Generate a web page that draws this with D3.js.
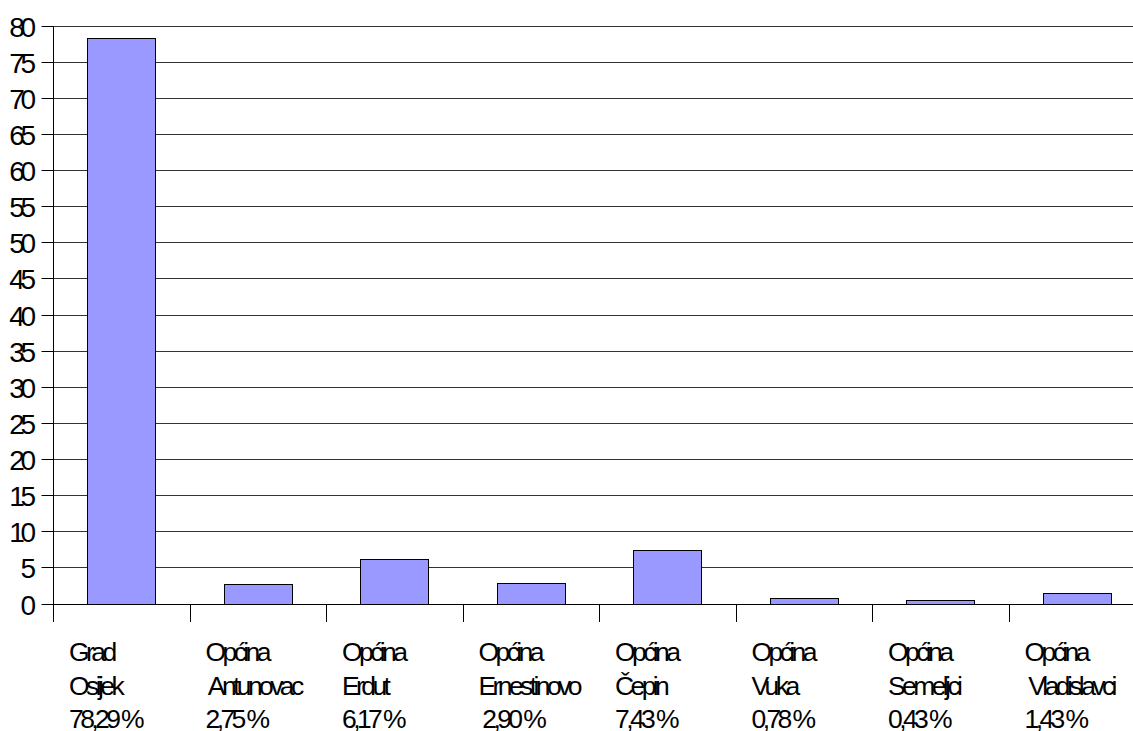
<!DOCTYPE html>
<html>
<head>
<meta charset="utf-8">
<script src="https://cdn.jsdelivr.net/npm/d3@7"></script>
<style>
html,body{margin:0;padding:0;background:#fff;overflow:hidden;}
svg{display:block;}
text{font-family:"Liberation Sans",Arial,sans-serif;fill:#000;white-space:pre;}
</style>
</head>
<body>
<svg id="chart" width="1133" height="731"></svg>
<script>
const categories = ["Grad Osijek","Općina Antunovac","Općina Erdut","Općina Ernestinovo","Općina Čepin","Općina Vuka","Općina Semeljci","Općina Vladislavci"];
const labelLines = [
  ["Grad","Osijek","78,29 %"],
  ["Općina"," Antunovac","2,75 %"],
  ["Općina","Erdut","6,17 %"],
  ["Općina","Ernestinovo"," 2,90 %"],
  ["Općina","Čepin","7,43 %"],
  ["Općina","Vuka","0,78 %"],
  ["Općina","Semeljci","0,43 %"],
  ["Općina"," Vladislavci","1,43 %"]
];
const values = [78.29, 2.75, 6.17, 2.90, 7.43, 0.78, 0.43, 1.43];
const yTicks = [0,5,10,15,20,25,30,35,40,45,50,55,60,65,70,75,80];

const svg = d3.select("#chart");
const mLeft = 53, mRight = 1145, mTop = 25.5, mBottom = 603.5;

const x = d3.scaleBand().domain(categories).range([mLeft, mRight]).paddingInner(0.5).paddingOuter(0.25);
const y = d3.scaleLinear().domain([0, 80]).range([mBottom, mTop]);
const bandStart = d => x(d) - x.step() * 0.25;

// gridlines
svg.append("g").selectAll("line").data(yTicks.filter(d => d > 0)).join("line")
  .attr("x1", mLeft).attr("x2", mRight)
  .attr("y1", d => Math.round(y(d)) + 0.5).attr("y2", d => Math.round(y(d)) + 0.5)
  .attr("stroke", "#333").attr("stroke-width", 1);

// bars
svg.append("g").selectAll("rect").data(values).join("rect")
  .attr("x", (d, i) => Math.round(x(categories[i])) + 0.5)
  .attr("y", d => Math.round(y(d)) + 0.5)
  .attr("width", Math.round(x.bandwidth()))
  .attr("height", d => Math.round(y(0)) - Math.round(y(d)))
  .attr("fill", "#9999ff").attr("stroke", "#000").attr("stroke-width", 1);

// y axis
const yAxis = d3.axisLeft(y).tickValues(yTicks).tickSize(12).tickPadding(6).tickFormat(d3.format("d"));
const gy = svg.append("g").attr("transform", `translate(${mLeft + 0.5},0)`).call(yAxis);
gy.select(".domain").attr("d", `M0,${Math.round(mTop)} V${Math.round(mBottom) + 18}`).attr("stroke", "#000");
gy.selectAll(".tick").attr("transform", d => `translate(0,${Math.round(y(d)) + 0.5})`);
gy.selectAll(".tick line").attr("stroke", "#000");
gy.selectAll(".tick text").attr("font-size", 28).attr("letter-spacing", "-4.5px")
  .attr("font-family", "Liberation Sans, Arial, sans-serif").attr("dy", "0.36em").attr("x", -22);

// x axis baseline and category separators
const ax = svg.append("g");
ax.append("line").attr("x1", mLeft).attr("x2", mRight)
  .attr("y1", Math.round(y(0)) + 0.5).attr("y2", Math.round(y(0)) + 0.5)
  .attr("stroke", "#000");
ax.selectAll("line.sep").data(categories).join("line").attr("class", "sep")
  .attr("x1", d => Math.round(bandStart(d)) + 0.5)
  .attr("x2", d => Math.round(bandStart(d)) + 0.5)
  .attr("y1", Math.round(y(0)) + 0.5).attr("y2", Math.round(y(0)) + 18)
  .attr("stroke", "#000");

// category labels
const lg = svg.append("g");
categories.forEach((c, i) => {
  const bx = bandStart(c) + 16;
  const t = lg.append("text").attr("font-size", 26.5).attr("letter-spacing", "-3.6px")
    .attr("xml:space", "preserve");
  labelLines[i].forEach((ln, j) => {
    t.append("tspan").attr("x", bx).attr("y", y(0) + 57.5 + j * 33.5).text(ln);
  });
});
</script>
</body>
</html>
